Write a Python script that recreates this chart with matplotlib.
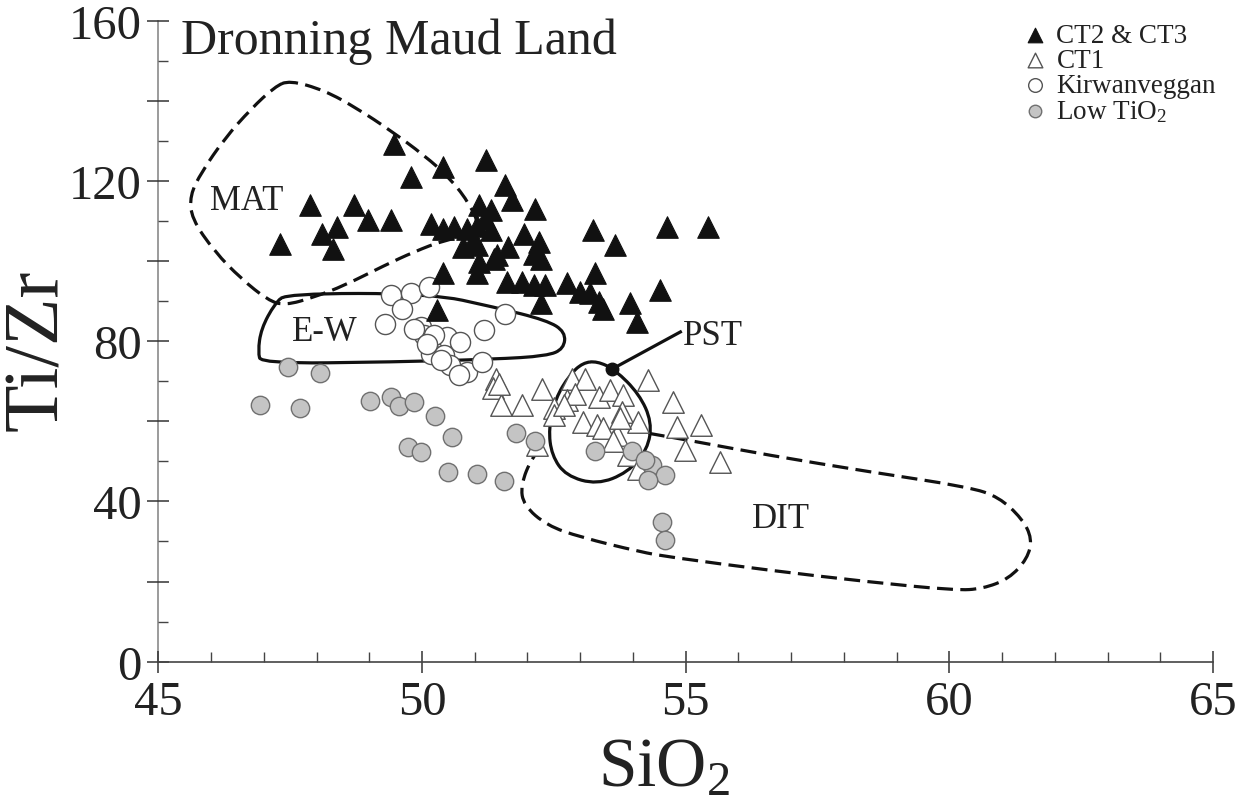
import numpy as np
import matplotlib
matplotlib.use("Agg")
import matplotlib.pyplot as plt
from matplotlib.path import Path
from matplotlib.patches import PathPatch
from matplotlib.ticker import MultipleLocator, FuncFormatter

plt.rcParams['font.family'] = ['Liberation Serif', 'DejaVu Serif']
plt.rcParams['mathtext.fontset'] = 'custom'
plt.rcParams['mathtext.rm'] = 'Liberation Serif'
plt.rcParams['mathtext.it'] = 'Liberation Serif:italic'

# CT2 & CT3 (SiO2, Ti/Zr)
ct23_sio2 = [49.47, 50.39, 51.21, 49.80, 51.58, 51.71, 52.14, 47.87, 48.71, 48.97,
             49.41, 48.39, 48.10, 47.30, 48.31, 50.17, 50.40, 50.60, 50.85, 51.05,
             51.30, 51.08, 51.30, 50.77, 51.05, 51.93, 52.21, 51.08, 51.36, 51.64,
             52.25, 50.39, 51.05, 51.62, 51.90, 52.12, 52.34, 52.25, 50.29, 53.24,
             54.64, 55.43, 53.66, 51.43, 52.12, 52.75, 53.00, 53.28, 53.19, 53.35,
             53.44, 53.95, 54.51, 54.07, 51.20, 50.95]
ct23_tizr = [129.3, 123.5, 125.1, 121.0, 118.9, 115.2, 113.1, 113.9, 113.9, 110.2,
             110.2, 108.5, 106.8, 104.3, 103.1, 109.3, 108.0, 108.6, 108.0, 108.8,
             107.8, 113.9, 112.7, 103.5, 103.9, 106.8, 104.7, 99.8, 100.6, 103.5,
             100.6, 96.9, 96.9, 94.8, 94.8, 94.0, 94.0, 89.4, 87.7, 107.7,
             108.5, 108.5, 103.9, 101.4, 101.8, 94.4, 92.3, 96.9, 91.9, 89.8,
             88.1, 89.4, 92.7, 84.8, 110.5, 104.5]

# CT1
ct1_sio2 = [51.40, 51.35, 51.49, 51.90, 52.28, 52.50, 52.50, 52.18, 52.85, 53.10,
            52.75, 52.91, 53.35, 53.57, 53.82, 54.29, 54.76, 53.79, 54.10, 53.06,
            53.32, 53.44, 53.70, 53.91, 54.83, 55.30, 54.98, 55.65, 54.10, 53.63,
            53.76, 51.46, 52.70]
ct1_tizr = [70.6, 68.3, 64.0, 64.0, 68.1, 63.2, 61.5, 54.0, 70.6, 70.6,
            65.2, 66.9, 66.1, 67.7, 66.5, 70.2, 64.7, 62.3, 59.8, 59.8,
            59.0, 58.2, 56.5, 51.5, 58.6, 59.0, 52.8, 49.9, 48.2, 55.2,
            60.7, 69.4, 64.0]

# Kirwanveggan
kirw_sio2 = [49.41, 49.79, 50.13, 49.63, 49.29, 49.98, 50.04, 50.48, 50.73, 51.17,
             51.58, 50.17, 50.42, 50.54, 50.86, 50.70, 51.14, 49.85, 50.23, 50.10,
             50.36]
kirw_tizr = [91.4, 91.9, 93.5, 88.1, 84.4, 83.5, 81.5, 81.0, 79.8, 82.7,
             86.9, 76.9, 76.5, 74.0, 72.3, 71.5, 74.8, 83.1, 81.5, 79.4,
             75.2]

# Low TiO2
lowti_sio2 = [47.46, 48.06, 46.92, 47.68, 49.02, 49.42, 49.57, 49.84, 50.24, 50.56,
              49.73, 49.98, 50.49, 51.04, 51.55, 51.79, 52.15, 53.29, 53.98, 54.36,
              54.61, 54.29, 54.55, 54.61, 54.23]
lowti_tizr = [73.6, 72.1, 64.0, 63.2, 65.0, 66.1, 63.8, 64.7, 61.3, 56.1,
              53.6, 52.4, 47.4, 46.9, 45.0, 57.2, 55.2, 52.5, 52.5, 49.2,
              46.5, 45.3, 34.9, 30.3, 50.3]

# field outlines
mat_field = [(47.49, 145.1), (48.15, 142.6), (48.78, 138.0), (49.40, 132.6), (50.04, 126.4),
             (50.54, 120.6), (50.92, 113.9), (51.09, 108.6), (50.86, 106.1), (50.42, 105.2),
             (49.85, 102.3), (49.29, 98.9), (48.53, 93.9), (47.96, 91.0), (47.40, 88.9),
             (47.08, 90.2), (46.57, 95.6), (46.07, 102.3), (45.63, 110.6), (45.60, 116.4),
             (45.82, 122.2), (46.26, 130.6), (46.76, 138.0), (47.21, 143.5)]
ew_field = [(47.43, 91.9), (50.17, 91.9), (51.37, 88.5), (52.37, 85.2), (52.72, 82.3),
            (52.69, 78.1), (52.37, 76.3), (51.37, 75.5), (49.47, 74.8), (46.95, 74.4),
            (46.89, 77.3), (46.95, 83.1), (47.21, 89.4)]
pst_field = [(53.32, 75.0), (53.66, 72.9), (54.12, 66.8), (54.36, 59.8), (54.28, 53.0),
             (53.90, 47.2), (53.32, 44.2), (52.73, 46.4), (52.46, 51.5), (52.40, 58.2),
             (52.53, 65.7), (52.80, 71.6), (53.05, 74.6)]
# DIT is open where it runs into PST
dit_field = [(54.30, 57.0), (55.08, 55.2), (56.59, 51.5), (58.48, 47.4), (60.37, 43.6),
             (60.94, 41.1), (61.38, 35.7), (61.57, 30.7), (61.48, 25.7), (61.13, 20.7),
             (60.63, 18.2), (60.12, 17.8), (58.48, 19.9), (56.59, 22.8), (54.70, 26.1),
             (54.14, 27.4), (53.00, 31.1), (52.37, 34.0), (51.93, 39.0), (51.87, 44.0),
             (52.09, 51.2), (52.30, 54.2)]

pst_point = (53.60, 73.0)
pst_label = (55.52, 81.5)


def curve(pts, closed=True):
    # quadratic spline through edge midpoints
    pts = np.asarray(pts, dtype=float)
    if closed:
        mids = (pts + np.roll(pts, -1, axis=0)) / 2
        verts = [mids[-1]]
        codes = [Path.MOVETO]
        for p, m in zip(pts, mids):
            verts += [p, m]
            codes += [Path.CURVE3, Path.CURVE3]
    else:
        mids = (pts[1:-2] + pts[2:-1]) / 2
        verts = [pts[0], (pts[0] + pts[1]) / 2]
        codes = [Path.MOVETO, Path.LINETO]
        for p, m in zip(pts[1:-2], mids):
            verts += [p, m]
            codes += [Path.CURVE3, Path.CURVE3]
        verts += [pts[-2], pts[-1]]
        codes += [Path.CURVE3, Path.CURVE3]
    return Path(verts, codes)


fig = plt.figure(figsize=(12.53, 8.03), dpi=100)
ax = fig.add_axes([158.3 / 1253, 140.3 / 803, (1213 - 158.3) / 1253, (662.7 - 21.6) / 803])

dash = (0, (5, 2.3))
for pts, ls, closed in [(mat_field, dash, True), (dit_field, dash, False),
                        (ew_field, '-', True), (pst_field, '-', True)]:
    ax.add_patch(PathPatch(curve(pts, closed), fill=False, lw=2.3, ls=ls,
                           edgecolor='#111111', zorder=1, capstyle='butt'))

h_kirw = ax.scatter(kirw_sio2, kirw_tizr, s=210, marker='o', facecolor='white',
                    edgecolor='#555555', linewidths=1.0, zorder=2, label='Kirwanveggan')
h_ct23 = ax.scatter(ct23_sio2, ct23_tizr, s=240, marker='^', facecolor='#111111',
                    edgecolor='#111111', linewidths=0.8, zorder=3, label='CT2 & CT3')
h_ct1 = ax.scatter(ct1_sio2, ct1_tizr, s=240, marker='^', facecolor='white',
                   edgecolor='#555555', linewidths=1.0, zorder=4, label='CT1')
h_low = ax.scatter(lowti_sio2, lowti_tizr, s=175, marker='o', facecolor='#c4c4c4',
                   edgecolor='#707070', linewidths=1.0, zorder=5, label='Low TiO$_2$')

# PST marker and leader line
ax.plot([pst_point[0], pst_label[0] - 0.62], [pst_point[1], pst_label[1] + 0.8],
        color='#111111', lw=2.3, zorder=6)
ax.plot(*pst_point, 'o', color='#111111', ms=9, zorder=7)

ax.text(46.67, 115.2, 'MAT', fontsize=25, ha='center', va='center', color='#222222')
ax.text(48.16, 82.3, 'E-W', fontsize=25, ha='center', va='center', color='#222222')
ax.text(pst_label[0], pst_label[1], 'PST', fontsize=25, ha='center', va='center', color='#222222')
ax.text(56.81, 35.7, 'DIT', fontsize=25, ha='center', va='center', color='#222222')
ax.text(45.43, 151.8, 'Dronning Maud Land', fontsize=36, ha='left', va='baseline',
        color='#222222')

ax.set_xlim(45, 65)
ax.set_ylim(0, 160)
for side in ['top', 'right']:
    ax.spines[side].set_visible(False)
ax.spines['left'].set_color('#8a8a8a')
ax.spines['bottom'].set_color('#444444')
ax.spines['left'].set_linewidth(1.2)
ax.spines['bottom'].set_linewidth(1.2)
ax.spines['left'].set_zorder(0.5)

ax.xaxis.set_major_locator(MultipleLocator(5))
ax.xaxis.set_minor_locator(MultipleLocator(1))
ax.yaxis.set_major_locator(MultipleLocator(20))
ax.yaxis.set_minor_locator(MultipleLocator(10))
ax.yaxis.set_major_formatter(FuncFormatter(lambda v, p: f'{v:.0f}' if v % 40 == 0 else ''))
ax.tick_params(which='major', direction='inout', length=16, width=1.1, color='#333333',
               labelsize=35, labelcolor='#222222')
ax.tick_params(which='minor', direction='in', length=7, width=1.0, color='#444444')
ax.tick_params(axis='x', which='major', pad=5)
ax.tick_params(axis='y', which='major', pad=4)

fig.text(38 / 1253, 1 - 350 / 803, 'Ti/Zr', fontsize=56, rotation=90,
         ha='center', va='center', color='#222222')
fig.text(664 / 1253, 1 - 770 / 803, 'SiO$_2$', fontsize=50,
         ha='center', va='center', color='#222222')

leg = ax.legend(handles=[h_ct23, h_ct1, h_kirw, h_low], loc='upper left',
                bbox_to_anchor=(1024 / 1253, 1 - 24 / 803), bbox_transform=fig.transFigure,
                frameon=False, fontsize=19.5, markerscale=0.68, handlelength=0.8,
                handletextpad=0.4, labelspacing=0.0, borderpad=0, borderaxespad=0)
for t in leg.get_texts():
    t.set_color('#222222')

fig.savefig('out.png', dpi=100)
